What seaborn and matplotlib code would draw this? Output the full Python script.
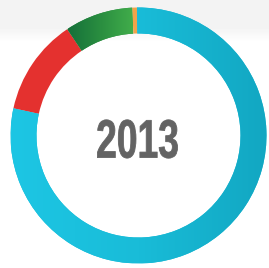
import numpy as np
import matplotlib
matplotlib.use("Agg")
import matplotlib.pyplot as plt
import seaborn as sns
from matplotlib.patheffects import AbstractPathEffect
from matplotlib.transforms import Affine2D
from matplotlib.font_manager import FontProperties
from matplotlib.textpath import TextPath
from matplotlib.colors import LinearSegmentedColormap

# ---- data ----
segments = ["Cyan", "Red", "Green", "Orange"]
shares = [78.6, 12.2, 8.6, 0.6]
colors = ["#19BCD8", "#E4312F", "#2A8E40", "#F2A34A"]
center_label = "2013"

sns.set_theme(style="white")

W, H = 269, 268
fig = plt.figure(figsize=(W / 100, H / 100), dpi=100)
fig.patch.set_facecolor("white")
ax = fig.add_axes([0, 0, 1, 1])

cx, cy = 138.5, H - 135.5
R = 128
ring_w = 26

wedges, _ = ax.pie(shares, colors=colors, startangle=90.7, counterclock=False,
                   radius=R, center=(cx, cy),
                   wedgeprops=dict(width=ring_w, linewidth=0))

# subtle gradients on cyan and green segments
xs = np.linspace(0, 1, 256)[None, :]
grad_cyan = LinearSegmentedColormap.from_list("c", ["#1DC6E4", "#19BCD8", "#12A7C2"])
im = ax.imshow(np.repeat(xs, 2, axis=0), cmap=grad_cyan, extent=(cx - R, cx + R, cy - R, cy + R),
               aspect="auto", zorder=2, origin="lower")
im.set_clip_path(wedges[0])
grad_green = LinearSegmentedColormap.from_list("g", ["#15703A", "#2A8E40", "#41AD4B"])
im2 = ax.imshow(np.repeat(xs, 2, axis=0), cmap=grad_green, extent=(68, 133, cy, cy + R),
                aspect="auto", zorder=2, origin="lower")
im2.set_clip_path(wedges[2])

# background: light gray band at top fading to white (row 0 = top)
rows = np.arange(H)
band = np.clip(0.955 + (rows - 28) / 14.0 * 0.045, 0.955, 1.0)
bg = np.repeat(band[:, None], 2, axis=1)
ax.imshow(bg, cmap="gray", vmin=0, vmax=1, extent=(0, W, 0, H), aspect="auto", zorder=0)


class HStretch(AbstractPathEffect):
    def __init__(self, sx, x0, lw, color):
        super().__init__()
        self.sx = sx
        self.x0 = x0
        self.lw = lw
        self.color = color

    def draw_path(self, renderer, gc, tpath, affine, rgbFace=None):
        t = affine + Affine2D().translate(-self.x0, 0).scale(self.sx, 1).translate(self.x0, 0)
        gc0 = renderer.new_gc()
        gc0.copy_properties(gc)
        gc0.set_linewidth(self.lw)
        gc0.set_foreground(self.color)
        gc0.set_joinstyle("round")
        renderer.draw_path(gc0, tpath, t, rgbFace)
        gc0.restore()


fams = ["Liberation Sans", "DejaVu Sans"]
fs = 39
lw_px = 0.8
text_color = "#636363"
fp = FontProperties(family=fams[0], weight="bold", size=fs)
tp = TextPath((0, 0), center_label, size=fs, prop=fp)
ext = tp.get_extents()
k = 100 / 72.0
xmin_px, xmax_px = ext.x0 * k, ext.x1 * k

ink_left, ink_right, ink_bottom = 97.0, 178.0, 158.0  # image pixel coords
sx = (ink_right - ink_left - lw_px) / (xmax_px - xmin_px)
tx = ink_left + lw_px / 2 - sx * xmin_px
ty = H - (ink_bottom - lw_px / 2)

txt = ax.text(tx, ty, center_label, ha="left", va="baseline", fontsize=fs,
              fontweight="bold", color=text_color, family=fams, zorder=5)

ax.set_xlim(0, W)
ax.set_ylim(0, H)
ax.set_aspect("auto")
ax.axis("off")

x0 = ax.transData.transform((tx, ty))[0]
txt.set_path_effects([HStretch(sx, x0, lw_px * 72 / 100, text_color)])

fig.savefig("out.png", dpi=100, facecolor="white")
